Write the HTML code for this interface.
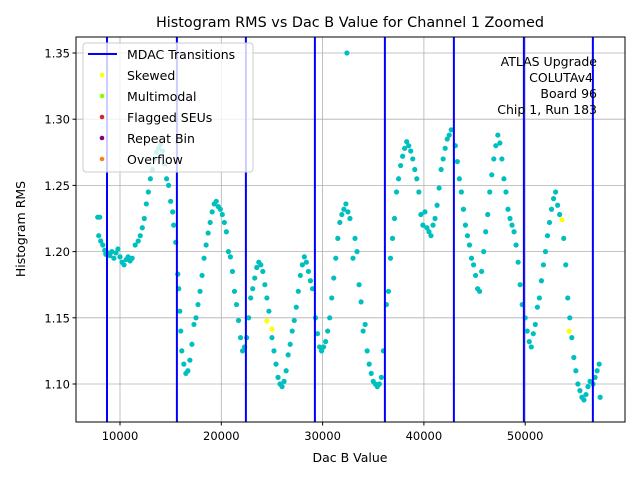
<!DOCTYPE html>
<html><head><meta charset="utf-8"><style>
body{margin:0;background:#fff;}
svg{font-family:"DejaVu Sans","Liberation Sans",sans-serif;}
</style></head><body>
<svg id="chart" width="640" height="480" viewBox="0 0 640 480" xmlns="http://www.w3.org/2000/svg">
<rect width="640" height="480" fill="#fff"/>
<text x="350" y="27" font-size="14.4" text-anchor="middle">Histogram RMS vs Dac B Value for Channel 1 Zoomed</text>
<text x="350" y="462" font-size="12.5" text-anchor="middle">Dac B Value</text>
<text x="25" y="229" font-size="12.5" text-anchor="middle" transform="rotate(-90 25 229)">Histogram RMS</text>
<g id="grid"></g>
<g id="marks"></g>
<rect x="76" y="37" width="549" height="385" fill="none" stroke="#000" stroke-width="1"/>
<g id="ticks"></g>
<g>
<rect x="83" y="43" width="170" height="129" rx="3" fill="#fff" fill-opacity="0.8" stroke="#ccc"/>
<line x1="88" y1="54" x2="117" y2="54" stroke="#00f" stroke-width="2"/>
<text x="127" y="59" font-size="12.5">MDAC Transitions</text>
<circle cx="102" cy="75" r="2.3" fill="#ffff00"/>
<text x="127" y="80" font-size="12.5">Skewed</text>
<circle cx="102" cy="96" r="2.3" fill="#7fff00"/>
<text x="127" y="101" font-size="12.5">Multimodal</text>
<circle cx="102" cy="117" r="2.3" fill="#d62728"/>
<text x="127" y="122" font-size="12.5">Flagged SEUs</text>
<circle cx="102" cy="138" r="2.3" fill="#800080"/>
<text x="127" y="143" font-size="12.5">Repeat Bin</text>
<circle cx="102" cy="159" r="2.3" fill="#ff7f0e"/>
<text x="127" y="164" font-size="12.5">Overflow</text>
</g>
<g font-size="12.5" text-anchor="end">
<text x="597" y="66">ATLAS Upgrade</text>
<text x="593" y="82">COLUTAv4</text>
<text x="597" y="98">Board 96</text>
<text x="597" y="114">Chip 1, Run 183</text>
</g>
</svg>
<script>
const xTicks=[10000,20000,30000,40000,50000];
const yTicks=[1.10,1.15,1.20,1.25,1.30,1.35];
const transitions=[8717,15617,22428,29240,36150,42960,49870,56680];
const dacK=[7.8,8.0,7.9,8.1,8.3,8.5,8.6,
8.8,9.0,9.2,9.4,9.6,9.8,10.0,10.2,10.4,10.6,10.8,11.0,11.2,11.5,11.8,12.0,12.2,12.4,12.6,12.8,13.0,13.2,13.4,13.6,13.8,14.0,14.2,14.4,14.6,14.8,15.0,15.2,15.3,15.5,
15.7,15.8,15.9,16.0,16.1,16.3,16.5,16.7,16.9,17.1,17.3,17.5,17.7,17.9,18.1,18.3,18.5,18.7,18.9,19.1,19.3,19.5,19.7,19.9,20.1,20.3,20.5,20.7,20.9,21.1,21.3,21.5,21.7,21.9,22.1,22.3,
22.5,22.7,22.9,23.1,23.3,23.5,23.7,23.9,24.1,24.3,24.5,24.7,25.0,25.2,25.4,25.6,25.8,26.0,26.2,26.4,26.6,26.8,27.0,27.2,27.4,27.6,27.8,28.0,28.2,28.4,28.6,28.8,29.0,
29.3,29.5,29.7,29.9,30.1,30.3,30.5,30.7,30.9,31.1,31.3,31.5,31.7,31.9,32.1,32.3,32.5,32.7,33.0,33.2,33.4,33.6,33.8,34.0,34.2,34.4,34.6,34.8,35.0,35.2,35.4,35.6,35.8,36.0,
36.3,36.5,36.7,36.9,37.1,37.3,37.5,37.7,37.9,38.1,38.3,38.5,38.7,38.9,39.1,39.3,39.5,39.7,39.9,40.1,40.3,40.5,40.7,40.9,41.1,41.3,41.5,41.7,41.9,42.1,42.3,42.5,42.7,
43.1,43.3,43.5,43.7,43.9,44.1,44.3,44.5,44.7,44.9,45.1,45.3,45.5,45.7,45.9,46.1,46.3,46.5,46.7,46.9,47.1,47.3,47.5,47.7,47.9,48.1,48.3,48.5,48.7,48.9,49.1,49.3,49.5,49.7,
50.0,50.2,50.4,50.6,50.8,51.0,51.2,51.4,51.6,51.8,52.0,52.2,52.4,52.6,52.8,53.0,53.2,53.4,53.8,54.0,54.2,54.4,54.6,54.8,55.0,55.2,55.4,55.6,55.8,56.0,56.2,56.4,
56.7,56.9,57.1,57.3,57.4,32.4];
const rms=[1.226,1.226,1.212,1.208,1.205,1.201,1.198,
1.199,1.197,1.200,1.195,1.199,1.202,1.196,1.192,1.190,1.194,1.196,1.193,1.195,1.205,1.208,1.212,1.218,1.225,1.236,1.245,1.255,1.262,1.270,1.275,1.278,1.281,1.276,1.266,1.255,1.250,1.238,1.230,1.220,1.207,
1.183,1.172,1.155,1.140,1.125,1.115,1.108,1.110,1.118,1.130,1.145,1.150,1.160,1.170,1.182,1.195,1.205,1.214,1.222,1.230,1.236,1.238,1.234,1.232,1.228,1.222,1.215,1.200,1.196,1.185,1.170,1.160,1.148,1.135,1.125,1.128,
1.135,1.150,1.165,1.172,1.180,1.188,1.192,1.190,1.185,1.175,1.165,1.155,1.135,1.125,1.115,1.105,1.100,1.098,1.102,1.110,1.122,1.130,1.140,1.148,1.158,1.170,1.182,1.190,1.196,1.192,1.185,1.178,1.172,
1.150,1.138,1.128,1.125,1.128,1.132,1.140,1.150,1.165,1.180,1.195,1.210,1.222,1.228,1.232,1.236,1.230,1.225,1.195,1.210,1.200,1.175,1.162,1.140,1.145,1.125,1.115,1.108,1.102,1.100,1.098,1.100,1.105,1.125,
1.160,1.170,1.195,1.210,1.225,1.245,1.255,1.265,1.272,1.278,1.283,1.280,1.276,1.270,1.262,1.255,1.245,1.228,1.220,1.230,1.218,1.215,1.212,1.220,1.225,1.235,1.248,1.262,1.270,1.278,1.285,1.288,1.292,
1.280,1.268,1.255,1.245,1.232,1.220,1.212,1.205,1.195,1.190,1.182,1.172,1.170,1.185,1.200,1.215,1.228,1.245,1.258,1.270,1.280,1.288,1.282,1.270,1.255,1.245,1.232,1.225,1.220,1.215,1.205,1.192,1.175,1.160,
1.150,1.140,1.132,1.128,1.138,1.145,1.158,1.165,1.178,1.190,1.200,1.212,1.222,1.232,1.240,1.245,1.235,1.228,1.210,1.190,1.165,1.150,1.135,1.120,1.110,1.100,1.095,1.090,1.088,1.092,1.098,1.102,
1.100,1.105,1.110,1.115,1.090,1.350];
const skewDac=[24500,25000,53630,54330];
const skewRms=[1.1476,1.1415,1.224,1.140];
const NS='http://www.w3.org/2000/svg';
function X(v){return 18.7+v*0.01013;}
function Y(v){return 53+(1.35-v)*1324;}
function mk(t,a,p){const e=document.createElementNS(NS,t);for(const k in a)e.setAttribute(k,a[k]);p.appendChild(e);return e;}
const grid=document.getElementById('grid'),marks=document.getElementById('marks'),ticks=document.getElementById('ticks');
xTicks.forEach(v=>{const x=X(v);
 const g=mk('line',{x1:x,x2:x,y1:37,y2:422,stroke:'#b0b0b0','stroke-width':0.8},grid);
 
 
 mk('line',{x1:x,x2:x,y1:422,y2:425.5,stroke:'#000'},ticks);
 const t=mk('text',{x:x,y:440,'font-size':11.5,'text-anchor':'middle'},ticks);t.textContent=v;
 
 
});
yTicks.forEach(v=>{const y=Y(v);
 const g=mk('line',{x1:76,x2:625,y1:y,y2:y,stroke:'#b0b0b0','stroke-width':0.8},grid);
 
 
 mk('line',{x1:72.5,x2:76,y1:y,y2:y,stroke:'#000'},ticks);
 const t=mk('text',{x:70,y:y+4.5,'font-size':11.5,'text-anchor':'end'},ticks);t.textContent=v.toFixed(2);
 
 
});
for(let i=0;i<dacK.length;i++){
 const c=mk('circle',{cx:X(dacK[i]*1000),cy:Y(rms[i]),r:2.6,fill:'#00bfbf'},marks);
 
 
}
for(let i=0;i<skewDac.length;i++){
 const c=mk('circle',{cx:X(skewDac[i]),cy:Y(skewRms[i]),r:2.6,fill:'#ffff00'},marks);
 
 
}
transitions.forEach(v=>{const x=X(v);
 const l=mk('line',{x1:x,x2:x,y1:37,y2:422,stroke:'#0000ff','stroke-width':2},marks);
 
 
});
</script>
</body></html>
